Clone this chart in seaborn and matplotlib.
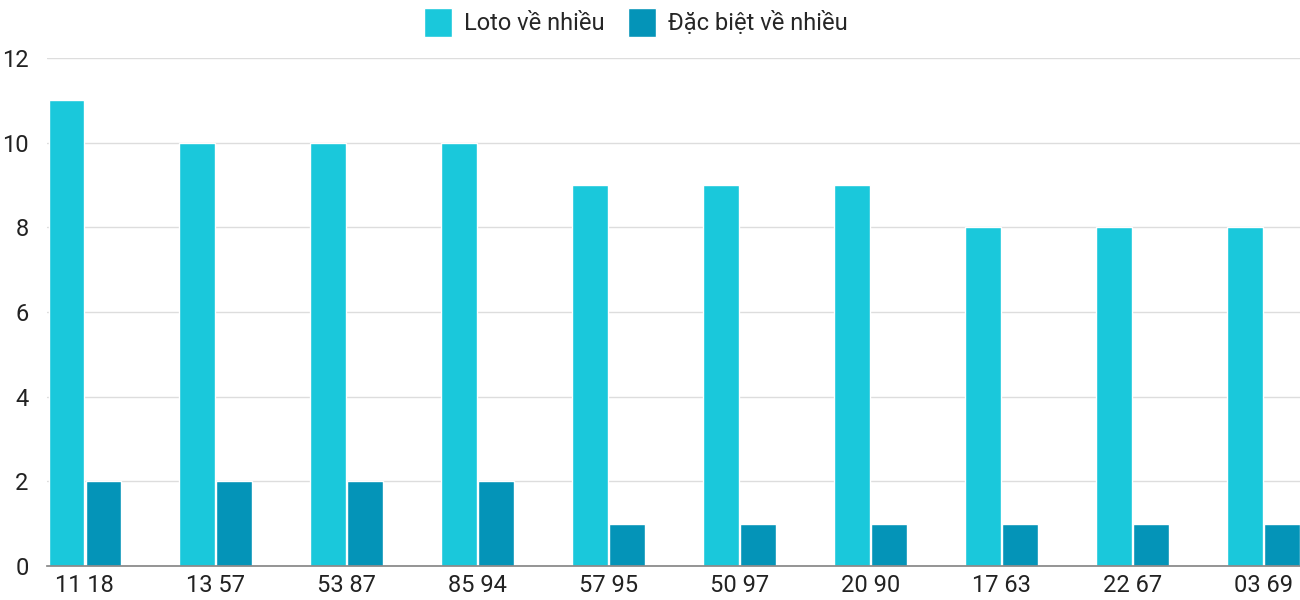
import matplotlib
matplotlib.use("Agg")
import matplotlib.pyplot as plt
import seaborn as sns
import pandas as pd

categories = ["11 18", "13 57", "53 87", "85 94", "57 95", "50 97", "20 90", "17 63", "22 67", "03 69"]
loto = [11, 10, 10, 10, 9, 9, 9, 8, 8, 8]
dacbiet = [2, 2, 2, 2, 1, 1, 1, 1, 1, 1]
series_names = ["Loto về nhiều", "Đặc biệt về nhiều"]
colors = ["#1ac8db", "#0494b8"]

df = pd.DataFrame({
    "cat": categories * 2,
    "val": loto + dacbiet,
    "series": [series_names[0]] * len(categories) + [series_names[1]] * len(categories),
})

sns.set_theme(style="white")
plt.rcParams["font.family"] = ["Roboto", "DejaVu Sans"]

fig = plt.figure(figsize=(13, 6), dpi=100)
ax = fig.add_axes([0.036, 0.057, 0.964, 0.846])
sns.barplot(data=df, x="cat", y="val", hue="series", palette=colors,
            width=0.565, gap=0.04, ax=ax, saturation=1)
ax.set_xlim(-0.29, 9.28)
ax.set_ylim(0, 12)
ax.set_yticks(range(0, 13, 2))
ax.yaxis.grid(True, color="#dddddd", linewidth=1)
ax.set_axisbelow(True)
for s in ["top", "right", "left"]:
    ax.spines[s].set_visible(False)
ax.spines["bottom"].set_color("#888888")
ax.set_xlabel("")
ax.set_ylabel("")
ax.tick_params(axis="both", labelsize=17, colors="#222222", length=0)
ax.tick_params(axis="x", pad=6)
ax.tick_params(axis="y", pad=13)
ax.legend(loc="lower center", bbox_to_anchor=(0.47, 1.0), ncol=2, frameon=False,
          fontsize=17, handlelength=1.2, handleheight=1.5, columnspacing=1.0,
          handletextpad=0.5)
fig.savefig("out.png", dpi=100)
